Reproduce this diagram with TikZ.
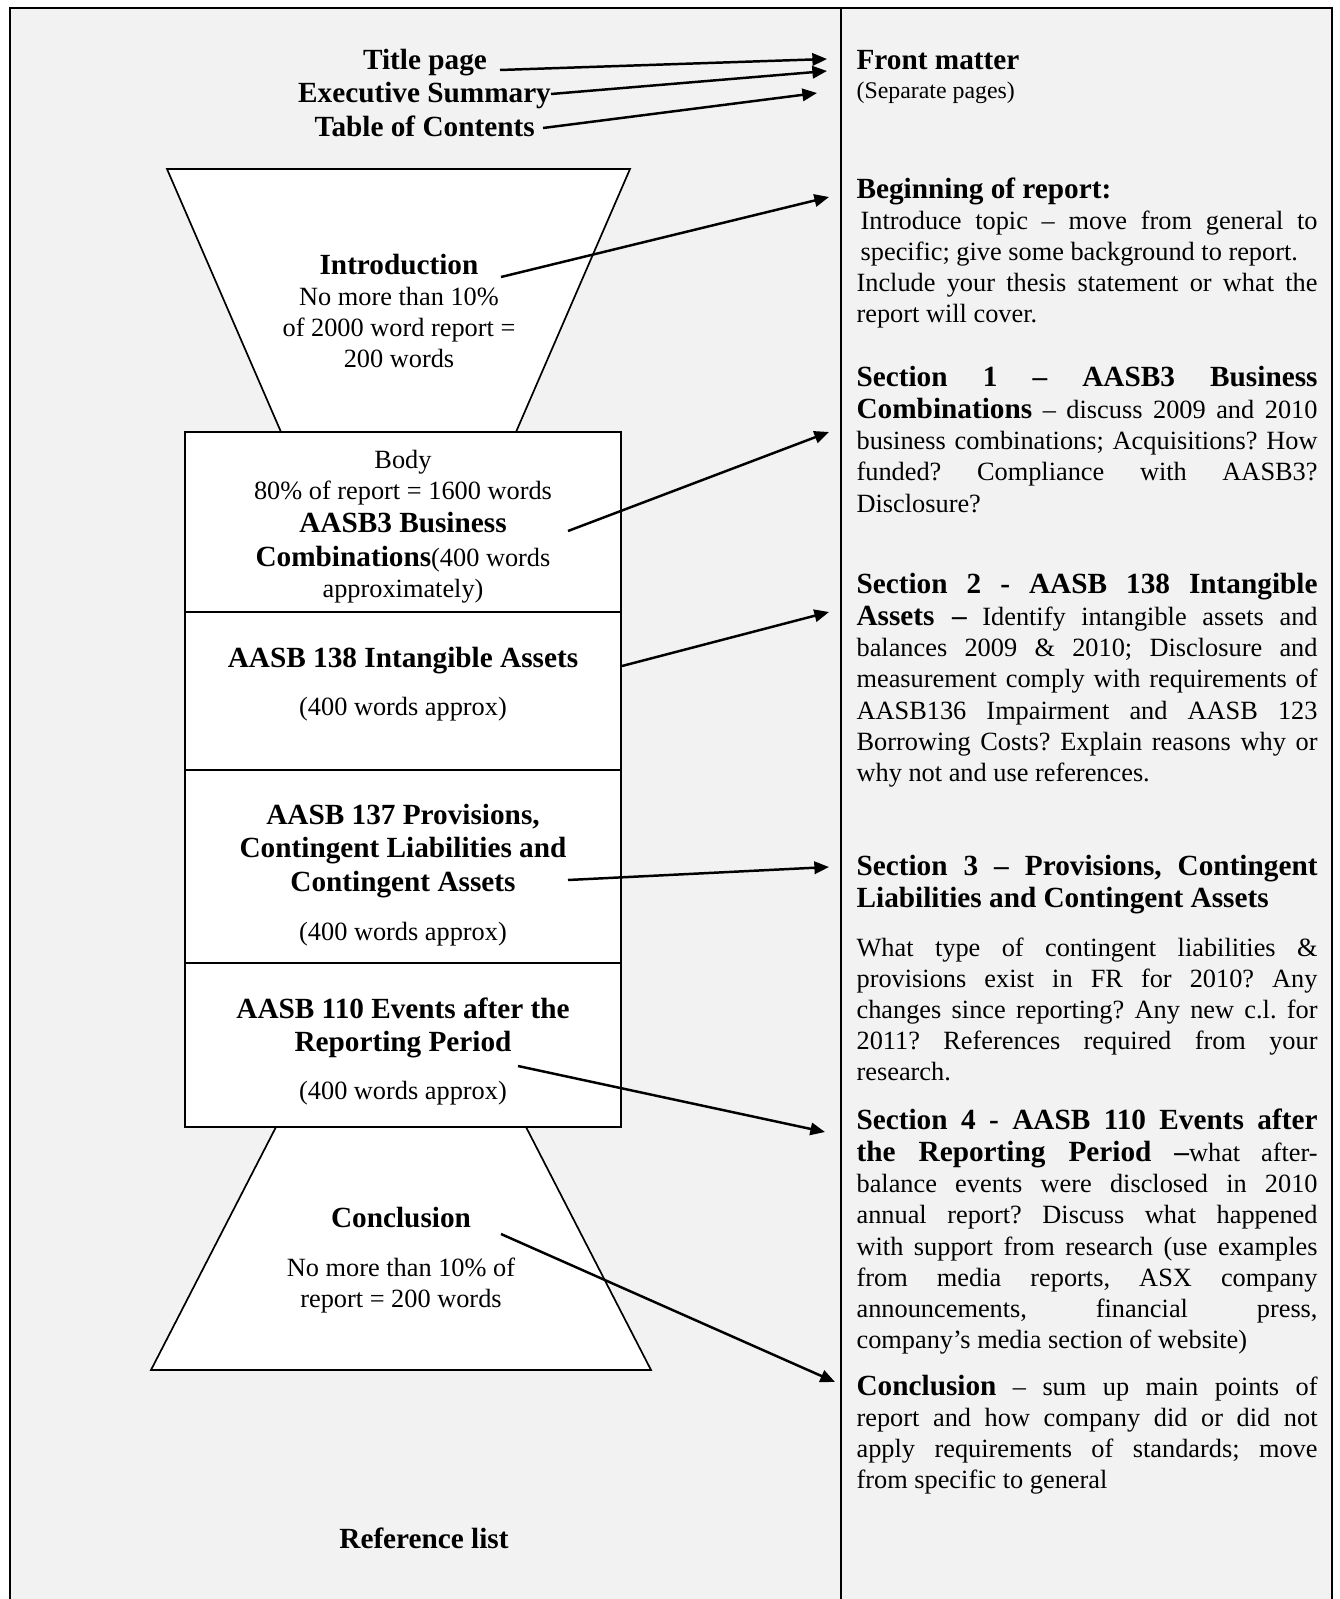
\documentclass[tikz,border=0pt]{standalone}
\usepackage{fontspec}
\setmainfont{Liberation Serif}
\usetikzlibrary{arrows.meta}
\definecolor{bgc}{HTML}{F2F2F2}
\frenchspacing
\newlength\colw \setlength\colw{204.8pt}
\newcommand\jl[1]{\hbox to\colw{#1}}
\newcommand\rl[1]{\hbox to\colw{#1\hfil}}
\newcommand\hd[1]{{\fontsize{13}{14.5}\selectfont\bfseries #1}}
\newcommand\rg{\fontsize{11.7}{13.8}\selectfont}
\newcommand\parablock[1]{\vtop{\hsize\colw\baselineskip=13.8pt\lineskiplimit=-20pt\lineskip=0pt #1}}
\newcommand\cblock[1]{\vtop{\baselineskip=13.8pt\lineskiplimit=-20pt\lineskip=0pt\halign{\hfil##\hfil\cr#1\crcr}}}
\tikzset{
  txt/.style={inner sep=0pt, outer sep=0pt, font=\rg},
  lft/.style={txt, anchor=base west},
  ctr/.style={txt, anchor=base},
  arr/.style={line width=1.1pt, -{Triangle[length=6.5pt,width=5.5pt]}},
  shp/.style={draw=black, fill=white, line width=0.75pt},
  boxl/.style={draw=black, line width=0.9pt},
}
\begin{document}
\begin{tikzpicture}[x=0.4443pt, y=-0.4443pt]
\useasboundingbox (0,0) rectangle (1340,1599);
\fill[white] (0,0) rectangle (1340,1599);
% frame
\fill[bgc] (10,8) rectangle (1332,1620);
\draw[line width=1.1pt] (10,1620) -- (10,8) -- (1332,8) -- (1332,1620);
\draw[line width=0.9pt] (841,8) -- (841,1620);

% funnel shapes
\path[shp] (167,169) -- (630,169) -- (516,432) -- (281,432) -- cycle;
\path[shp] (276,1127) -- (526,1127) -- (651,1370) -- (151,1370) -- cycle;
\path[boxl, fill=white] (184.6,432) rectangle (621,1127);
\draw[boxl] (184.6,612) -- (621,612);
\draw[boxl] (184.6,770) -- (621,770);
\draw[boxl] (184.6,963) -- (621,963);

% left labels
\node[ctr] (title) at (425,69) {\hd{Title page}};
\node[ctr] (exec) at (424.5,102) {\hd{Executive Summary}};
\node[ctr] (toc) at (424.7,136) {\hd{Table of Contents}};

\node[ctr] (intro) at (399,274) {\cblock{\hd{Introduction}\cr
No more than 10\%\cr
of 2000 word report =\cr
200 words}};

\node[ctr] (body) at (403,468) {\cblock{Body\cr
80\% of report = 1600 words\cr
\noalign{\vskip 1.2pt}
\hd{AASB3 Business}\cr
\noalign{\vskip 1.0pt}
\hd{Combinations}(400 words\cr
approximately)}};

\node[ctr] (s138) at (403,667) {\cblock{\hd{AASB 138 Intangible Assets}\cr
\noalign{\vskip 7.8pt}
(400 words approx)}};

\node[ctr] (s137) at (403,824) {\cblock{\hd{AASB 137 Provisions,}\cr
\noalign{\vskip 1.3pt}
\hd{Contingent Liabilities and}\cr
\noalign{\vskip 1.3pt}
\hd{Contingent Assets}\cr
\noalign{\vskip 7.6pt}
(400 words approx)}};

\node[ctr] (s110) at (403,1018) {\cblock{\hd{AASB 110 Events after the}\cr
\noalign{\vskip 1.0pt}
\hd{Reporting Period}\cr
\noalign{\vskip 7.6pt}
(400 words approx)}};

\node[ctr] (concl) at (401,1227) {\cblock{\hd{Conclusion}\cr
\noalign{\vskip 8.2pt}
No more than 10\% of\cr
report = 200 words}};

\node[ctr] (refl) at (424,1548) {\hd{Reference list}};

% right column
\node[lft] (front) at (856.6,69) {\hd{Front matter}};
\node[lft, font=\fontsize{10.6}{12}\selectfont] (sep) at (856.6,98) {(Separate pages)};

\node[lft] (begin) at (856.6,198) {\parablock{%
\rl{\hd{Beginning of report:}}
\jl{\hspace*{1.8pt}Introduce topic – move from general to}
\rl{\hspace*{1.8pt}specific; give some background to report.}
\jl{Include your thesis statement or what the}
\rl{report will cover.}}};

\node[lft] (sec1) at (856.6,386) {\parablock{%
\jl{\hd{Section 1 – AASB3 Business}}
\vskip 0.8pt
\jl{\hd{Combinations} – discuss 2009 and 2010}
\jl{business combinations; Acquisitions? How}
\jl{funded? Compliance with AASB3?}
\rl{Disclosure?}}};

\node[lft] (sec2) at (856.6,593) {\parablock{%
\jl{\hd{Section 2 - AASB 138 Intangible}}
\vskip 0.8pt
\jl{\hd{Assets –} Identify intangible assets and}
\jl{balances 2009 \& 2010; Disclosure and}
\jl{measurement comply with requirements of}
\jl{AASB136 Impairment and AASB 123}
\jl{Borrowing Costs? Explain reasons why or}
\rl{why not and use references.}}};

\node[lft] (sec3) at (856.6,875) {\parablock{%
\jl{\hd{Section 3 – Provisions, Contingent}}
\vskip 0.8pt
\rl{\hd{Liabilities and Contingent Assets}}}};

\node[lft] (sec3t) at (856.6,956) {\parablock{%
\jl{What type of contingent liabilities \&}
\jl{provisions exist in FR for 2010? Any}
\jl{changes since reporting? Any new c.l. for}
\jl{2011? References required from your}
\rl{research.}}};

\node[lft] (sec4) at (856.6,1129) {\parablock{%
\jl{\hd{Section 4 - AASB 110 Events after}}
\vskip 0.8pt
\jl{\hd{the Reporting Period –}what after-}
\jl{balance events were disclosed in 2010}
\jl{annual report? Discuss what happened}
\jl{with support from research (use examples}
\jl{from media reports, ASX company}
\jl{announcements, financial press,}
\rl{company’s media section of website)}}};

\node[lft] (sec5) at (856.6,1395) {\parablock{%
\jl{\hd{Conclusion} – sum up main points of}
\jl{report and how company did or did not}
\jl{apply requirements of standards; move}
\rl{from specific to general}}};

% connector end points
\coordinate (a1s) at (500,70);   \coordinate (a1e) at (827,59);
\coordinate (a2s) at (551,94);   \coordinate (a2e) at (827,71);
\coordinate (a3s) at (543,128);  \coordinate (a3e) at (817,93);
\coordinate (a4s) at (501,277);  \coordinate (a4e) at (829,197);
\coordinate (a5s) at (568,531);  \coordinate (a5e) at (829,432);
\coordinate (a6s) at (622,666);  \coordinate (a6e) at (829,612);
\coordinate (a7s) at (568,880);  \coordinate (a7e) at (829,867);
\coordinate (a8s) at (518,1066); \coordinate (a8e) at (825,1132);
\coordinate (a9s) at (501,1234); \coordinate (a9e) at (835,1382);

\draw[arr] (a1s) -- (a1e);
\draw[arr] (a2s) -- (a2e);
\draw[arr] (a3s) -- (a3e);
\draw[arr] (a4s) -- (a4e);
\draw[arr] (a5s) -- (a5e);
\draw[arr] (a6s) -- (a6e);
\draw[arr] (a7s) -- (a7e);
\draw[arr] (a8s) -- (a8e);
\draw[arr] (a9s) -- (a9e);
\end{tikzpicture}
\end{document}
